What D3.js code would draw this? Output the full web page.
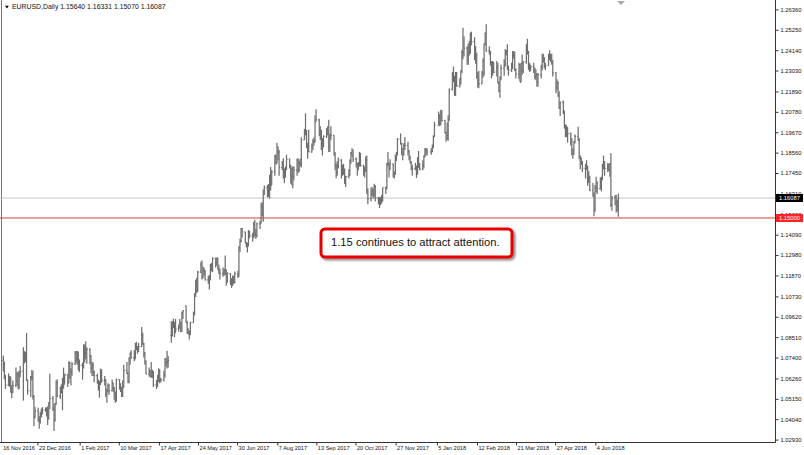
<!DOCTYPE html>
<html><head><meta charset="utf-8">
<script src="https://cdn.jsdelivr.net/npm/d3@7"></script>
<style>
html,body{margin:0;padding:0;background:#fff;}
svg{display:block;}
</style></head><body>
<svg id="chart" width="804" height="455"></svg>
<script>
const symbol = "EURUSD", timeframe = "Daily";
// Daily bars: [date, open, high, low, close]
const q4_2016 = [
["2016-11-16",1.0725,1.0751,1.0664,1.0690],["2016-11-17",1.0690,1.0718,1.0622,1.0626],["2016-11-18",1.0626,1.0646,1.0569,1.0590],
["2016-11-21",1.0590,1.0654,1.0584,1.0630],["2016-11-22",1.0630,1.0640,1.0581,1.0614],["2016-11-23",1.0614,1.0637,1.0550,1.0552],
["2016-11-24",1.0552,1.0589,1.0518,1.0552],["2016-11-25",1.0552,1.0615,1.0547,1.0589],["2016-11-28",1.0589,1.0686,1.0579,1.0614],
["2016-11-29",1.0614,1.0661,1.0589,1.0650],["2016-11-30",1.0650,1.0663,1.0566,1.0588],["2016-12-01",1.0588,1.0668,1.0568,1.0662],
["2016-12-02",1.0662,1.0694,1.0632,1.0664],["2016-12-05",1.0664,1.0796,1.0505,1.0765],["2016-12-06",1.0765,1.0775,1.0707,1.0720],
["2016-12-07",1.0720,1.0771,1.0717,1.0754],["2016-12-08",1.0754,1.0874,1.0612,1.0615],["2016-12-09",1.0615,1.0620,1.0538,1.0560],
["2016-12-12",1.0560,1.0640,1.0525,1.0635],["2016-12-13",1.0635,1.0672,1.0615,1.0628],["2016-12-14",1.0628,1.0668,1.0512,1.0530],
["2016-12-15",1.0530,1.0535,1.0366,1.0415],["2016-12-16",1.0415,1.0470,1.0408,1.0450],["2016-12-19",1.0450,1.0467,1.0390,1.0400],
["2016-12-20",1.0400,1.0422,1.0352,1.0392],["2016-12-21",1.0392,1.0445,1.0380,1.0425],["2016-12-22",1.0425,1.0462,1.0413,1.0435],
["2016-12-23",1.0435,1.0470,1.0430,1.0455],["2016-12-26",1.0455,1.0469,1.0444,1.0455],["2016-12-27",1.0455,1.0468,1.0419,1.0455],
["2016-12-28",1.0455,1.0474,1.0373,1.0410],["2016-12-29",1.0410,1.0496,1.0403,1.0495],["2016-12-30",1.0495,1.0652,1.0459,1.0517]
];
const q1_2017 = [
["2017-01-02",1.0517,1.0530,1.0450,1.0459],["2017-01-03",1.0459,1.0485,1.0340,1.0402],["2017-01-04",1.0402,1.0494,1.0390,1.0487],
["2017-01-05",1.0487,1.0615,1.0483,1.0605],["2017-01-06",1.0605,1.0622,1.0523,1.0530],["2017-01-09",1.0530,1.0581,1.0514,1.0570],
["2017-01-10",1.0570,1.0594,1.0545,1.0556],["2017-01-11",1.0556,1.0629,1.0453,1.0580],["2017-01-12",1.0580,1.0685,1.0570,1.0613],
["2017-01-13",1.0613,1.0652,1.0592,1.0645],["2017-01-16",1.0645,1.0650,1.0580,1.0602],["2017-01-17",1.0602,1.0720,1.0600,1.0710],
["2017-01-18",1.0710,1.0717,1.0625,1.0633],["2017-01-19",1.0633,1.0682,1.0588,1.0660],["2017-01-20",1.0660,1.0715,1.0641,1.0704],
["2017-01-23",1.0704,1.0775,1.0700,1.0766],["2017-01-24",1.0766,1.0775,1.0712,1.0732],["2017-01-25",1.0732,1.0776,1.0700,1.0750],
["2017-01-26",1.0750,1.0773,1.0670,1.0680],["2017-01-27",1.0680,1.0730,1.0660,1.0697],["2017-01-30",1.0697,1.0712,1.0619,1.0695],
["2017-01-31",1.0695,1.0812,1.0680,1.0797],["2017-02-01",1.0797,1.0811,1.0713,1.0763],["2017-02-02",1.0763,1.0829,1.0730,1.0761],
["2017-02-03",1.0761,1.0796,1.0706,1.0785],["2017-02-06",1.0785,1.0790,1.0704,1.0748],["2017-02-07",1.0748,1.0752,1.0654,1.0683],
["2017-02-08",1.0683,1.0715,1.0640,1.0700],["2017-02-09",1.0700,1.0713,1.0640,1.0660],["2017-02-10",1.0660,1.0668,1.0606,1.0641],
["2017-02-13",1.0641,1.0652,1.0598,1.0600],["2017-02-14",1.0600,1.0620,1.0560,1.0575],["2017-02-15",1.0575,1.0613,1.0521,1.0603],
["2017-02-16",1.0603,1.0680,1.0591,1.0670],["2017-02-17",1.0670,1.0675,1.0603,1.0615],["2017-02-20",1.0615,1.0640,1.0587,1.0617],
["2017-02-21",1.0617,1.0622,1.0525,1.0540],["2017-02-22",1.0540,1.0571,1.0494,1.0560],["2017-02-23",1.0560,1.0600,1.0549,1.0585],
["2017-02-24",1.0585,1.0596,1.0536,1.0560],["2017-02-27",1.0560,1.0621,1.0557,1.0600],["2017-02-28",1.0600,1.0603,1.0554,1.0575],
["2017-03-01",1.0575,1.0580,1.0510,1.0546],["2017-03-02",1.0546,1.0555,1.0494,1.0505],["2017-03-03",1.0505,1.0626,1.0500,1.0620],
["2017-03-06",1.0620,1.0622,1.0565,1.0580],["2017-03-07",1.0580,1.0600,1.0552,1.0572],["2017-03-08",1.0572,1.0580,1.0525,1.0540],
["2017-03-09",1.0540,1.0615,1.0525,1.0580],["2017-03-10",1.0580,1.0700,1.0575,1.0670],["2017-03-13",1.0670,1.0715,1.0650,1.0655],
["2017-03-14",1.0655,1.0660,1.0600,1.0605],["2017-03-15",1.0605,1.0740,1.0600,1.0735],["2017-03-16",1.0735,1.0765,1.0700,1.0765],
["2017-03-17",1.0765,1.0780,1.0735,1.0740],["2017-03-20",1.0740,1.0780,1.0720,1.0745],["2017-03-21",1.0745,1.0820,1.0730,1.0810],
["2017-03-22",1.0810,1.0825,1.0780,1.0800],["2017-03-23",1.0800,1.0802,1.0760,1.0783],["2017-03-24",1.0783,1.0820,1.0770,1.0800],
["2017-03-27",1.0800,1.0906,1.0797,1.0865],["2017-03-28",1.0865,1.0875,1.0810,1.0815],["2017-03-29",1.0815,1.0820,1.0740,1.0763],
["2017-03-30",1.0763,1.0770,1.0700,1.0718],["2017-03-31",1.0718,1.0725,1.0650,1.0650]
];
const q2_2017 = [
["2017-04-03",1.0650,1.0685,1.0636,1.0666],["2017-04-04",1.0666,1.0672,1.0632,1.0642],["2017-04-05",1.0642,1.0716,1.0630,1.0660],
["2017-04-06",1.0660,1.0675,1.0629,1.0645],["2017-04-07",1.0645,1.0667,1.0580,1.0592],["2017-04-10",1.0592,1.0617,1.0569,1.0600],
["2017-04-11",1.0600,1.0645,1.0580,1.0615],["2017-04-12",1.0615,1.0682,1.0607,1.0670],["2017-04-13",1.0670,1.0675,1.0600,1.0610],
["2017-04-14",1.0610,1.0630,1.0605,1.0620],["2017-04-17",1.0620,1.0668,1.0610,1.0645],["2017-04-18",1.0645,1.0737,1.0630,1.0730],
["2017-04-19",1.0730,1.0735,1.0690,1.0715],["2017-04-20",1.0715,1.0777,1.0680,1.0715],["2017-04-21",1.0715,1.0748,1.0685,1.0725],
["2017-04-24",1.0860,1.0937,1.0820,1.0865],["2017-04-25",1.0865,1.0938,1.0855,1.0930],["2017-04-26",1.0930,1.0952,1.0900,1.0907],
["2017-04-27",1.0907,1.0934,1.0851,1.0876],["2017-04-28",1.0876,1.0950,1.0875,1.0895],["2017-05-01",1.0895,1.0920,1.0880,1.0905],
["2017-05-02",1.0905,1.0950,1.0896,1.0928],["2017-05-03",1.0928,1.0935,1.0878,1.0885],["2017-05-04",1.0885,1.0990,1.0880,1.0985],
["2017-05-05",1.0985,1.0998,1.0950,1.0995],["2017-05-08",1.1020,1.1023,1.0930,1.0930],["2017-05-09",1.0930,1.0940,1.0870,1.0875],
["2017-05-10",1.0875,1.0900,1.0865,1.0875],["2017-05-11",1.0875,1.0888,1.0838,1.0865],["2017-05-12",1.0865,1.0935,1.0863,1.0930],
["2017-05-15",1.0930,1.0990,1.0930,1.0980],["2017-05-16",1.0980,1.1090,1.0970,1.1085],["2017-05-17",1.1085,1.1160,1.1070,1.1160],
["2017-05-18",1.1160,1.1175,1.1090,1.1100],["2017-05-19",1.1100,1.1212,1.1100,1.1205],["2017-05-22",1.1205,1.1262,1.1200,1.1245],
["2017-05-23",1.1245,1.1268,1.1165,1.1180],["2017-05-24",1.1180,1.1235,1.1170,1.1215],["2017-05-25",1.1215,1.1230,1.1185,1.1210],
["2017-05-26",1.1210,1.1215,1.1160,1.1163],["2017-05-29",1.1163,1.1184,1.1140,1.1165],["2017-05-30",1.1165,1.1190,1.1110,1.1180],
["2017-05-31",1.1180,1.1250,1.1160,1.1245],["2017-06-01",1.1245,1.1255,1.1210,1.1215],["2017-06-02",1.1215,1.1285,1.1205,1.1280],
["2017-06-05",1.1280,1.1283,1.1230,1.1255],["2017-06-06",1.1255,1.1285,1.1240,1.1280],["2017-06-07",1.1280,1.1283,1.1220,1.1222],
["2017-06-08",1.1222,1.1245,1.1195,1.1215],["2017-06-09",1.1215,1.1225,1.1165,1.1195],["2017-06-12",1.1195,1.1230,1.1180,1.1200],
["2017-06-13",1.1200,1.1225,1.1185,1.1214],["2017-06-14",1.1214,1.1296,1.1190,1.1215],["2017-06-15",1.1215,1.1220,1.1131,1.1150],
["2017-06-16",1.1150,1.1205,1.1148,1.1197],["2017-06-19",1.1197,1.1200,1.1135,1.1145],["2017-06-20",1.1145,1.1172,1.1119,1.1135],
["2017-06-21",1.1135,1.1187,1.1130,1.1165],["2017-06-22",1.1165,1.1186,1.1140,1.1150],["2017-06-23",1.1150,1.1209,1.1145,1.1195],
["2017-06-26",1.1195,1.1212,1.1173,1.1182],["2017-06-27",1.1182,1.1348,1.1180,1.1338],["2017-06-28",1.1338,1.1387,1.1315,1.1375],
["2017-06-29",1.1375,1.1445,1.1367,1.1440],["2017-06-30",1.1440,1.1446,1.1393,1.1425]
];
const q3_2017 = [
["2017-07-03",1.1425,1.1425,1.1365,1.1365],["2017-07-04",1.1365,1.1370,1.1340,1.1350],["2017-07-05",1.1350,1.1365,1.1312,1.1350],
["2017-07-06",1.1350,1.1435,1.1345,1.1423],["2017-07-07",1.1423,1.1430,1.1390,1.1402],["2017-07-10",1.1402,1.1420,1.1370,1.1400],
["2017-07-11",1.1400,1.1480,1.1390,1.1465],["2017-07-12",1.1465,1.1490,1.1400,1.1415],["2017-07-13",1.1415,1.1440,1.1385,1.1400],
["2017-07-14",1.1400,1.1475,1.1395,1.1468],["2017-07-17",1.1468,1.1485,1.1440,1.1475],["2017-07-18",1.1475,1.1583,1.1470,1.1560],
["2017-07-19",1.1560,1.1585,1.1510,1.1515],["2017-07-20",1.1515,1.1655,1.1480,1.1630],["2017-07-21",1.1630,1.1677,1.1625,1.1665],
["2017-07-24",1.1665,1.1680,1.1612,1.1640],["2017-07-25",1.1640,1.1685,1.1615,1.1645],["2017-07-26",1.1645,1.1735,1.1605,1.1730],
["2017-07-27",1.1730,1.1777,1.1650,1.1680],["2017-07-28",1.1680,1.1760,1.1680,1.1750],["2017-07-31",1.1750,1.1845,1.1730,1.1835],
["2017-08-01",1.1835,1.1845,1.1790,1.1800],["2017-08-02",1.1800,1.1910,1.1797,1.1860],["2017-08-03",1.1860,1.1890,1.1815,1.1860],
["2017-08-04",1.1860,1.1870,1.1730,1.1775],["2017-08-07",1.1775,1.1810,1.1760,1.1790],["2017-08-08",1.1790,1.1825,1.1715,1.1750],
["2017-08-09",1.1750,1.1770,1.1690,1.1765],["2017-08-10",1.1765,1.1780,1.1720,1.1765],["2017-08-11",1.1765,1.1845,1.1760,1.1820],
["2017-08-14",1.1820,1.1822,1.1770,1.1780],["2017-08-15",1.1780,1.1790,1.1688,1.1730],["2017-08-16",1.1730,1.1775,1.1680,1.1770],
["2017-08-17",1.1770,1.1782,1.1662,1.1725],["2017-08-18",1.1725,1.1780,1.1705,1.1760],["2017-08-21",1.1760,1.1823,1.1730,1.1815],
["2017-08-22",1.1815,1.1825,1.1745,1.1760],["2017-08-23",1.1760,1.1812,1.1750,1.1800],["2017-08-24",1.1800,1.1822,1.1780,1.1795],
["2017-08-25",1.1795,1.1940,1.1775,1.1925],["2017-08-28",1.1925,1.1985,1.1925,1.1980],["2017-08-29",1.1980,1.2070,1.1950,1.1970],
["2017-08-30",1.1970,1.1980,1.1880,1.1885],["2017-08-31",1.1885,1.1910,1.1823,1.1905],["2017-09-01",1.1905,1.1980,1.1860,1.1860],
["2017-09-04",1.1860,1.1905,1.1855,1.1890],["2017-09-05",1.1890,1.1930,1.1870,1.1915],["2017-09-06",1.1915,1.1940,1.1895,1.1920],
["2017-09-07",1.1920,1.2060,1.1910,1.2025],["2017-09-08",1.2025,1.2092,1.2025,1.2035],["2017-09-11",1.2035,1.2040,1.1945,1.1960],
["2017-09-12",1.1960,1.2000,1.1925,1.1965],["2017-09-13",1.1965,1.1980,1.1870,1.1885],["2017-09-14",1.1885,1.1935,1.1840,1.1925],
["2017-09-15",1.1925,1.1950,1.1885,1.1945],["2017-09-18",1.1945,1.1990,1.1935,1.1955],["2017-09-19",1.1955,1.2000,1.1950,1.1995],
["2017-09-20",1.1995,1.2035,1.1860,1.1890],["2017-09-21",1.1890,1.1960,1.1860,1.1940],["2017-09-22",1.1940,1.2000,1.1925,1.1950],
["2017-09-25",1.1950,1.1950,1.1840,1.1845],["2017-09-26",1.1845,1.1860,1.1760,1.1790],["2017-09-27",1.1790,1.1795,1.1717,1.1745],
["2017-09-28",1.1745,1.1810,1.1730,1.1785],["2017-09-29",1.1785,1.1830,1.1770,1.1815]
];
const q4_2017 = [
["2017-10-02",1.1815,1.1820,1.1715,1.1735],["2017-10-03",1.1735,1.1790,1.1730,1.1745],["2017-10-04",1.1745,1.1795,1.1735,1.1760],
["2017-10-05",1.1760,1.1770,1.1685,1.1705],["2017-10-06",1.1705,1.1730,1.1669,1.1725],["2017-10-09",1.1725,1.1765,1.1715,1.1735],
["2017-10-10",1.1735,1.1820,1.1730,1.1810],["2017-10-11",1.1810,1.1860,1.1795,1.1855],["2017-10-12",1.1855,1.1880,1.1835,1.1835],
["2017-10-13",1.1835,1.1875,1.1805,1.1820],["2017-10-16",1.1820,1.1830,1.1775,1.1795],["2017-10-17",1.1795,1.1800,1.1730,1.1765],
["2017-10-18",1.1765,1.1805,1.1760,1.1790],["2017-10-19",1.1790,1.1860,1.1780,1.1845],["2017-10-20",1.1845,1.1855,1.1780,1.1785],
["2017-10-23",1.1785,1.1790,1.1730,1.1760],["2017-10-24",1.1760,1.1780,1.1720,1.1762],["2017-10-25",1.1762,1.1835,1.1750,1.1815],
["2017-10-26",1.1815,1.1840,1.1630,1.1650],["2017-10-27",1.1650,1.1660,1.1575,1.1605],["2017-10-30",1.1605,1.1665,1.1590,1.1630],
["2017-10-31",1.1630,1.1670,1.1620,1.1645],["2017-11-01",1.1645,1.1660,1.1605,1.1620],["2017-11-02",1.1620,1.1687,1.1615,1.1670],
["2017-11-03",1.1670,1.1680,1.1590,1.1610],["2017-11-06",1.1610,1.1615,1.1575,1.1610],["2017-11-07",1.1610,1.1610,1.1554,1.1595],
["2017-11-08",1.1595,1.1615,1.1570,1.1590],["2017-11-09",1.1590,1.1625,1.1578,1.1595],["2017-11-10",1.1595,1.1665,1.1590,1.1665],
["2017-11-13",1.1665,1.1670,1.1630,1.1665],["2017-11-14",1.1665,1.1800,1.1655,1.1795],["2017-11-15",1.1795,1.1860,1.1780,1.1795],
["2017-11-16",1.1795,1.1805,1.1720,1.1770],["2017-11-17",1.1770,1.1820,1.1760,1.1795],["2017-11-20",1.1795,1.1795,1.1720,1.1735],
["2017-11-21",1.1735,1.1755,1.1715,1.1740],["2017-11-22",1.1740,1.1845,1.1735,1.1825],["2017-11-23",1.1825,1.1860,1.1810,1.1850],
["2017-11-24",1.1850,1.1935,1.1840,1.1930],["2017-11-27",1.1930,1.1961,1.1900,1.1905],["2017-11-28",1.1905,1.1910,1.1845,1.1845],
["2017-11-29",1.1845,1.1880,1.1815,1.1845],["2017-11-30",1.1845,1.1905,1.1840,1.1905],["2017-12-01",1.1905,1.1940,1.1870,1.1895],
["2017-12-04",1.1895,1.1915,1.1840,1.1865],["2017-12-05",1.1865,1.1870,1.1815,1.1830],["2017-12-06",1.1830,1.1840,1.1800,1.1800],
["2017-12-07",1.1800,1.1810,1.1760,1.1770],["2017-12-08",1.1770,1.1790,1.1730,1.1768],["2017-12-11",1.1768,1.1800,1.1760,1.1770],
["2017-12-12",1.1770,1.1785,1.1718,1.1740],["2017-12-13",1.1740,1.1830,1.1735,1.1825],["2017-12-14",1.1825,1.1865,1.1775,1.1775],
["2017-12-15",1.1775,1.1800,1.1760,1.1765],["2017-12-18",1.1765,1.1815,1.1760,1.1785],["2017-12-19",1.1785,1.1840,1.1770,1.1840],
["2017-12-20",1.1840,1.1880,1.1830,1.1875],["2017-12-21",1.1875,1.1880,1.1840,1.1870],["2017-12-22",1.1870,1.1880,1.1840,1.1860],
["2017-12-26",1.1860,1.1880,1.1845,1.1860],["2017-12-27",1.1860,1.1900,1.1860,1.1890],["2017-12-28",1.1890,1.1950,1.1880,1.1945],
["2017-12-29",1.1945,1.2025,1.1940,1.2005]
];
const q1_2018 = [
["2018-01-02",1.2005,1.2080,1.2005,1.2060],["2018-01-03",1.2060,1.2065,1.2000,1.2015],["2018-01-04",1.2015,1.2090,1.2005,1.2070],
["2018-01-05",1.2070,1.2088,1.2025,1.2030],["2018-01-08",1.2030,1.2035,1.1960,1.1965],["2018-01-09",1.1965,1.1970,1.1915,1.1935],
["2018-01-10",1.1935,1.2020,1.1925,1.1950],["2018-01-11",1.1950,1.2060,1.1920,1.2035],["2018-01-12",1.2035,1.2205,1.2030,1.2200],
["2018-01-15",1.2200,1.2295,1.2195,1.2265],["2018-01-16",1.2265,1.2325,1.2240,1.2260],["2018-01-17",1.2260,1.2275,1.2165,1.2185],
["2018-01-18",1.2185,1.2295,1.2165,1.2235],["2018-01-19",1.2235,1.2295,1.2215,1.2220],["2018-01-22",1.2220,1.2260,1.2210,1.2260],
["2018-01-23",1.2260,1.2305,1.2225,1.2300],["2018-01-24",1.2300,1.2415,1.2290,1.2405],["2018-01-25",1.2405,1.2536,1.2365,1.2400],
["2018-01-26",1.2400,1.2490,1.2380,1.2425],["2018-01-29",1.2425,1.2435,1.2335,1.2380],["2018-01-30",1.2380,1.2450,1.2335,1.2405],
["2018-01-31",1.2405,1.2465,1.2385,1.2415],["2018-02-01",1.2415,1.2510,1.2395,1.2500],["2018-02-02",1.2500,1.2515,1.2440,1.2460],
["2018-02-05",1.2460,1.2485,1.2360,1.2370],["2018-02-06",1.2370,1.2435,1.2340,1.2380],["2018-02-07",1.2380,1.2400,1.2260,1.2265],
["2018-02-08",1.2265,1.2295,1.2210,1.2250],["2018-02-09",1.2250,1.2300,1.2206,1.2230],["2018-02-12",1.2230,1.2300,1.2230,1.2290],
["2018-02-13",1.2290,1.2370,1.2265,1.2355],["2018-02-14",1.2355,1.2450,1.2275,1.2445],["2018-02-15",1.2445,1.2510,1.2440,1.2505],
["2018-02-16",1.2505,1.2555,1.2405,1.2410],["2018-02-19",1.2410,1.2435,1.2390,1.2405],["2018-02-20",1.2405,1.2410,1.2330,1.2340],
["2018-02-21",1.2340,1.2355,1.2260,1.2285],["2018-02-22",1.2285,1.2355,1.2275,1.2330],["2018-02-23",1.2330,1.2350,1.2290,1.2295],
["2018-02-26",1.2295,1.2355,1.2270,1.2320],["2018-02-27",1.2320,1.2345,1.2235,1.2235],["2018-02-28",1.2235,1.2245,1.2185,1.2190],
["2018-03-01",1.2190,1.2270,1.2155,1.2265],["2018-03-02",1.2265,1.2335,1.2250,1.2315],["2018-03-05",1.2315,1.2365,1.2275,1.2335],
["2018-03-06",1.2335,1.2420,1.2325,1.2405],["2018-03-07",1.2405,1.2415,1.2385,1.2410],["2018-03-08",1.2410,1.2446,1.2310,1.2310],
["2018-03-09",1.2310,1.2330,1.2275,1.2305],["2018-03-12",1.2305,1.2345,1.2295,1.2335],["2018-03-13",1.2335,1.2410,1.2310,1.2385],
["2018-03-14",1.2385,1.2410,1.2370,1.2370],["2018-03-15",1.2370,1.2405,1.2300,1.2305],["2018-03-16",1.2305,1.2315,1.2260,1.2285],
["2018-03-19",1.2285,1.2345,1.2255,1.2335],["2018-03-20",1.2335,1.2340,1.2240,1.2240],["2018-03-21",1.2240,1.2345,1.2240,1.2340],
["2018-03-22",1.2340,1.2390,1.2280,1.2300],["2018-03-23",1.2300,1.2355,1.2290,1.2350],["2018-03-26",1.2350,1.2445,1.2340,1.2445],
["2018-03-27",1.2445,1.2476,1.2390,1.2405],["2018-03-28",1.2405,1.2410,1.2310,1.2310],["2018-03-29",1.2310,1.2345,1.2295,1.2320],
["2018-03-30",1.2320,1.2335,1.2300,1.2325]
];
const q2_2018 = [
["2018-04-02",1.2325,1.2345,1.2290,1.2300],["2018-04-03",1.2300,1.2320,1.2255,1.2270],["2018-04-04",1.2270,1.2310,1.2250,1.2280],
["2018-04-05",1.2280,1.2290,1.2215,1.2240],["2018-04-06",1.2240,1.2290,1.2215,1.2280],["2018-04-09",1.2280,1.2335,1.2260,1.2320],
["2018-04-10",1.2320,1.2395,1.2305,1.2355],["2018-04-11",1.2355,1.2395,1.2345,1.2370],["2018-04-12",1.2370,1.2375,1.2315,1.2325],
["2018-04-13",1.2325,1.2345,1.2305,1.2330],["2018-04-16",1.2330,1.2395,1.2330,1.2380],["2018-04-17",1.2380,1.2414,1.2360,1.2375],
["2018-04-18",1.2375,1.2395,1.2350,1.2370],["2018-04-19",1.2370,1.2395,1.2335,1.2345],["2018-04-20",1.2345,1.2360,1.2270,1.2290],
["2018-04-23",1.2290,1.2295,1.2180,1.2210],["2018-04-24",1.2210,1.2255,1.2195,1.2235],["2018-04-25",1.2235,1.2245,1.2160,1.2165],
["2018-04-26",1.2165,1.2190,1.2095,1.2100],["2018-04-27",1.2100,1.2135,1.2055,1.2130],["2018-04-30",1.2130,1.2140,1.2065,1.2080],
["2018-05-01",1.2080,1.2085,1.1990,1.1990],["2018-05-02",1.1990,1.2010,1.1940,1.1950],["2018-05-03",1.1950,1.2005,1.1940,1.1990],
["2018-05-04",1.1990,1.1995,1.1910,1.1960],["2018-05-07",1.1960,1.1965,1.1895,1.1920],["2018-05-08",1.1920,1.1935,1.1840,1.1865],
["2018-05-09",1.1865,1.1880,1.1823,1.1850],["2018-05-10",1.1850,1.1920,1.1845,1.1915],["2018-05-11",1.1915,1.1955,1.1905,1.1945],
["2018-05-14",1.1945,1.1997,1.1920,1.1925],["2018-05-15",1.1925,1.1935,1.1820,1.1835],["2018-05-16",1.1835,1.1840,1.1765,1.1810],
["2018-05-17",1.1810,1.1830,1.1790,1.1795],["2018-05-18",1.1795,1.1810,1.1750,1.1770],["2018-05-21",1.1770,1.1795,1.1715,1.1790],
["2018-05-22",1.1790,1.1815,1.1760,1.1780],["2018-05-23",1.1780,1.1785,1.1675,1.1700],["2018-05-24",1.1700,1.1755,1.1690,1.1720],
["2018-05-25",1.1720,1.1730,1.1645,1.1650],["2018-05-28",1.1650,1.1690,1.1615,1.1625],["2018-05-29",1.1625,1.1640,1.1510,1.1540],
["2018-05-30",1.1540,1.1680,1.1535,1.1665],["2018-05-31",1.1665,1.1725,1.1640,1.1690],["2018-06-01",1.1690,1.1700,1.1630,1.1660],
["2018-06-04",1.1660,1.1720,1.1655,1.1695],["2018-06-05",1.1695,1.1725,1.1645,1.1715],["2018-06-06",1.1715,1.1795,1.1705,1.1780],
["2018-06-07",1.1780,1.1840,1.1765,1.1800],["2018-06-08",1.1800,1.1810,1.1730,1.1770],["2018-06-11",1.1770,1.1800,1.1750,1.1780],
["2018-06-12",1.1780,1.1795,1.1755,1.1760],["2018-06-13",1.1760,1.1800,1.1725,1.1795],["2018-06-14",1.1795,1.1852,1.1560,1.1570],
["2018-06-15",1.1570,1.1620,1.1540,1.1610],["2018-06-18",1.1610,1.1625,1.1570,1.1620],["2018-06-19",1.1620,1.1625,1.1530,1.1585],
["2018-06-20",1.1585,1.1600,1.1535,1.1570],["2018-06-21",1.15640,1.16331,1.15070,1.16087]
];
const priceTicks = [1.2636,1.2525,1.2414,1.2303,1.2189,1.2078,1.1967,1.1856,1.1745,1.1631,1.1520,
                    1.1409,1.1298,1.1187,1.1073,1.0962,1.0851,1.0740,1.0626,1.0515,1.0404,1.0293];
const dateLabels = ["16 Nov 2016","23 Dec 2016","1 Feb 2017","10 Mar 2017","17 Apr 2017","24 May 2017",
                    "30 Jun 2017","7 Aug 2017","13 Sep 2017","20 Oct 2017","27 Nov 2017","5 Jan 2018",
                    "12 Feb 2018","21 Mar 2018","27 Apr 2018","4 Jun 2018"];
const levelLines = [1.15];
const noteText = "1.15 continues to attract attention.";

// ---------- drawing ----------
const FONT = "'Liberation Sans', Arial, sans-serif";
const parseISO = d3.timeParse("%Y-%m-%d");
const parseLabel = d3.timeParse("%d %b %Y");
const fmtP = d3.format(".5f");
const bars = [].concat(q4_2016, q1_2017, q2_2017, q3_2017, q4_2017, q1_2018, q2_2018)
  .map(r => ({date: parseISO(r[0]), o: r[1], h: r[2], l: r[3], c: r[4]}));
const last = bars[bars.length - 1];

const plotR = 775, plotB = 442;
const svg = d3.select("#chart").style("font-family", FONT);

const x = d3.scaleTime().domain([bars[0].date, last.date]).range([3.3, 618.3]);
const y = d3.scaleLinear().domain(d3.extent(priceTicks)).range([439.6, 9.4]);

// frame
svg.append("rect").attr("x", 0).attr("y", 0).attr("width", 804).attr("height", 455).attr("fill", "#fff");
svg.append("line").attr("x1", 1.5).attr("x2", 1.5).attr("y1", 0).attr("y2", plotB).attr("stroke", "#777");

// horizontal lines: bid line and level line
svg.append("line").attr("x1", 0).attr("x2", plotR).attr("y1", y(last.c)).attr("y2", y(last.c))
  .attr("stroke", "#c4c4c4").attr("stroke-width", 1);
svg.selectAll(".level").data(levelLines).join("line").attr("class", "level")
  .attr("x1", 0).attr("x2", plotR).attr("y1", d => y(d)).attr("y2", d => y(d))
  .attr("stroke", "#d93a3a").attr("stroke-width", 1);

// OHLC bars
const gBars = svg.append("g").attr("stroke", "#6f6f6f").attr("stroke-width", 1.25);
gBars.selectAll("g").data(bars).join("g").each(function(d) {
  const g = d3.select(this), xx = x(d.date);
  g.append("line").attr("x1", xx).attr("x2", xx).attr("y1", y(d.h)).attr("y2", y(d.l));
  g.append("line").attr("x1", xx - 1).attr("x2", xx).attr("y1", y(d.o)).attr("y2", y(d.o));
  g.append("line").attr("x1", xx).attr("x2", xx + 1).attr("y1", y(d.c)).attr("y2", y(d.c));
});

// axes lines
svg.append("line").attr("x1", plotR + 0.5).attr("x2", plotR + 0.5).attr("y1", 0).attr("y2", plotB + 0.5).attr("stroke", "#333");
svg.append("line").attr("x1", 0).attr("x2", plotR + 0.5).attr("y1", plotB + 0.5).attr("y2", plotB + 0.5).attr("stroke", "#333");

// price axis
const yAxis = d3.axisRight(y).tickValues(priceTicks).tickFormat(fmtP).tickSize(3).tickPadding(2);
svg.append("g").attr("transform", `translate(${plotR + 0.5},0)`).call(yAxis)
  .attr("font-family", FONT).attr("font-size", 5.8)
  .call(g => g.select(".domain").remove())
  .call(g => g.selectAll("line").attr("stroke", "#333"))
  .call(g => g.selectAll("text").attr("fill", "#111"));

// time axis
const labelDates = dateLabels.map(parseLabel);
const xAxis = d3.axisBottom(x).tickValues(labelDates).tickFormat(d3.timeFormat("%-d %b %Y")).tickSize(3);
svg.append("g").attr("transform", `translate(0,${plotB + 0.5})`).call(xAxis)
  .attr("font-family", FONT).attr("font-size", 5.6)
  .call(g => g.select(".domain").remove())
  .call(g => g.selectAll("line").attr("stroke", "#333").attr("x1", -5).attr("x2", -5))
  .call(g => g.selectAll("text").attr("fill", "#111").attr("text-anchor", "start")
      .attr("y", 4).attr("x", d => Math.max(x(d) - 4, 2.7) - x(d)));

// price boxes on the axis
function priceBox(v, fill) {
  const yy = y(v);
  svg.append("rect").attr("x", plotR + 1).attr("y", yy - 4).attr("width", 27).attr("height", 8).attr("fill", fill);
  svg.append("text").attr("x", plotR + 4).attr("y", yy).attr("dy", "0.35em")
    .attr("font-size", 5.8).attr("fill", "#fff").text(fmtP(v));
}
priceBox(last.c, "#000");
levelLines.forEach(v => priceBox(v, "#ff2222"));

// title
svg.append("path").attr("d", "M5,5.8 L8.8,5.8 L6.9,8.6 Z").attr("fill", "#000");
svg.append("text").attr("x", 12).attr("y", 9).attr("font-size", 6.9).attr("fill", "#111")
  .text(`${symbol},${timeframe}  ${fmtP(last.o)} ${fmtP(last.h)} ${fmtP(last.l)} ${fmtP(last.c)}`);

// shift marker
svg.append("path").attr("d", "M617,1 L625,1 L621,5 Z").attr("fill", "#a8a8a8");

// annotation
const defs = svg.append("defs");
const f = defs.append("filter").attr("id", "sh").attr("x", "-10%").attr("y", "-30%").attr("width", "120%").attr("height", "160%");
f.append("feDropShadow").attr("dx", 2).attr("dy", 2).attr("stdDeviation", 1.2).attr("flood-color", "#000").attr("flood-opacity", 0.45);
svg.append("rect").attr("x", 321).attr("y", 229).attr("width", 191).attr("height", 28).attr("rx", 4)
  .attr("fill", "#fff").attr("stroke", "#e80000").attr("stroke-width", 3).attr("filter", "url(#sh)");
svg.append("text").attr("x", 331).attr("y", 245.5).attr("font-size", 11.2).attr("fill", "#111").text(noteText);
</script>
</body></html>
